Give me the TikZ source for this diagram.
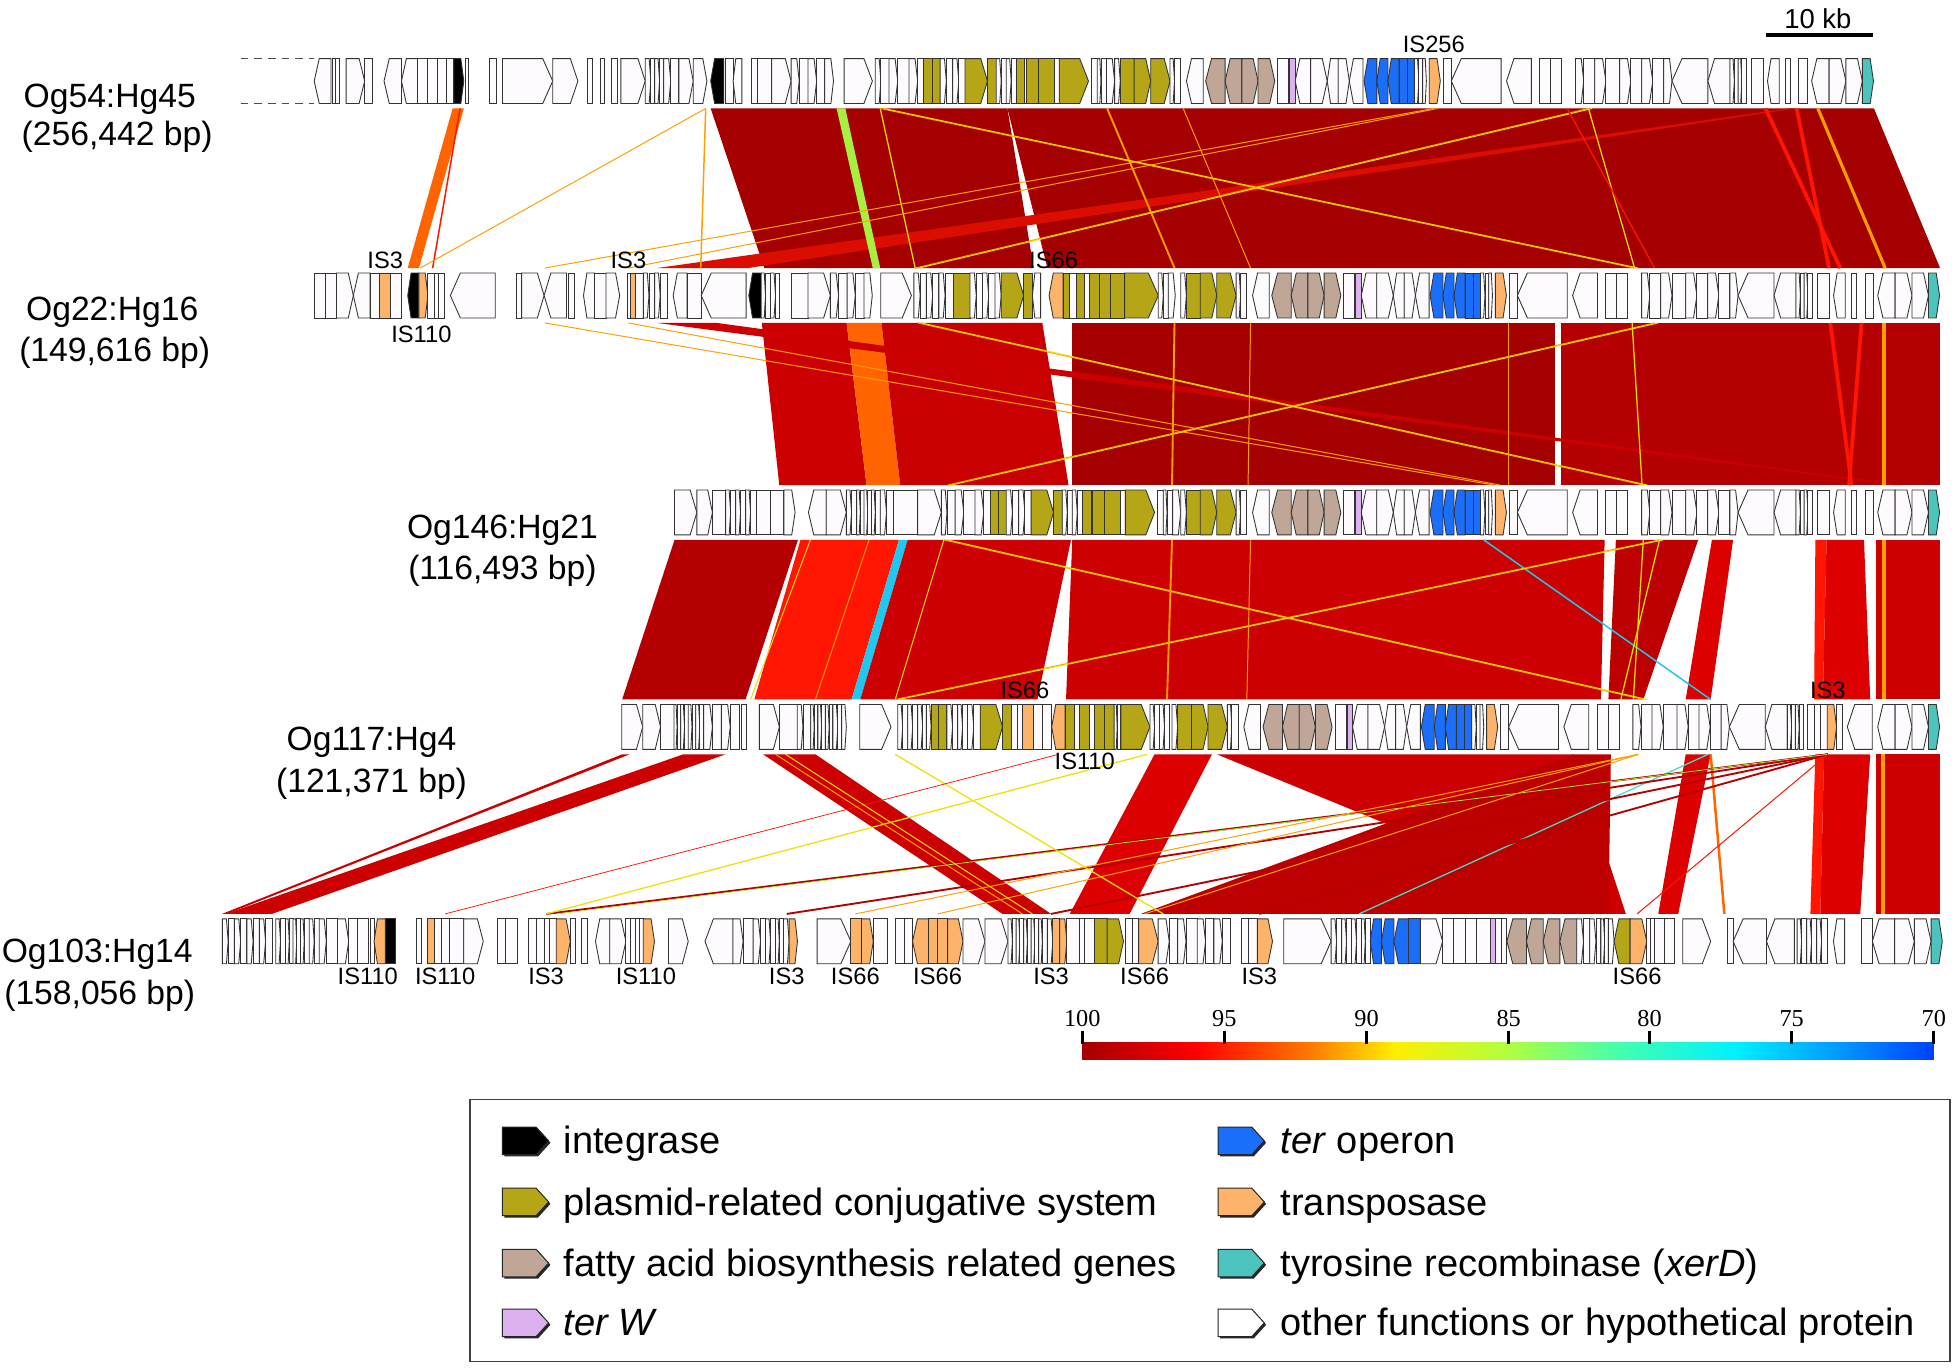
\documentclass[tikz,border=0pt]{standalone}
\usepackage{fontspec}
\setmainfont{Liberation Sans}
\newfontfamily\serifnum{Liberation Serif}
\definecolor{gW}{HTML}{FDFBFD}
\definecolor{gK}{HTML}{000000}
\definecolor{gO}{HTML}{B5A618}
\definecolor{gT}{HTML}{BFA696}
\definecolor{gP}{HTML}{DDB0F0}
\definecolor{gB}{HTML}{1A6EFA}
\definecolor{gR}{HTML}{FDB46A}
\definecolor{gC}{HTML}{4CC3BD}
\definecolor{iA}{HTML}{A50000}
\definecolor{iB}{HTML}{B40000}
\definecolor{iC}{HTML}{CC0000}
\definecolor{iD}{HTML}{DD0000}
\definecolor{iE}{HTML}{FF1500}
\definecolor{iF}{HTML}{FF6400}
\definecolor{iG}{HTML}{FFA000}
\definecolor{iH}{HTML}{F0E000}
\definecolor{iI}{HTML}{A8F040}
\definecolor{iJ}{HTML}{20C8F0}
\definecolor{iK}{HTML}{40E0D0}
\tikzset{
  genebox/.style={draw=black!80, line width=0.7pt, line join=miter},
  trk/.style={font=\fontsize{27}{31}\selectfont, anchor=base, inner sep=0},
  islab/.style={font=\fontsize{19}{22}\selectfont, anchor=base, inner sep=0},
  legtxt/.style={font=\fontsize{30.5}{34}\selectfont, anchor=base west, inner sep=0},
  barnum/.style={font=\serifnum\fontsize{19.5}{22}\selectfont, anchor=base, inner sep=0},
  thinln/.style={line width=0.8pt},
}
% gene drawing
\newcommand\gene[4]{%
  \pgfmathsetmacro\gA{#1}\pgfmathsetmacro\gB{#2}%
  \pgfmathsetmacro\gT{min(8,0.3*(\gB-\gA))}%
  \ifnum#3>0\relax
    \filldraw[genebox,fill=#4] (\gA,\ty) -- (\gB-\gT,\ty) -- (\gB,\gM) -- (\gB-\gT,\by) -- (\gA,\by) -- cycle;
  \else\ifnum#3<0\relax
    \filldraw[genebox,fill=#4] (\gB,\ty) -- (\gA+\gT,\ty) -- (\gA,\gM) -- (\gA+\gT,\by) -- (\gB,\by) -- cycle;
  \else
    \filldraw[genebox,fill=#4] (\gA,\ty) rectangle (\gB,\by);
  \fi\fi}
\newcommand\glist[1]{\foreach \pa/\pb/\pd/\pc in {#1}{\gene{\pa+\off}{\pb+\off}{\pd}{\pc}}}
\newcommand\wrun[2]{\xdef\wprev{#1}%
  \foreach \x [count=\i] in {#2}{%
    \ifodd\i\relax\gene{\wprev+\off}{\x+\off}{1}{gW}\else\gene{\wprev+\off}{\x+\off}{0}{gW}\fi
    \xdef\wprev{\x}}}
\newcommand\settrack[1]{\def\ty{#1}\pgfmathsetmacro\by{#1+36}\pgfmathsetmacro\gM{#1+18}}
% backbone pieces
\newcommand\BoneA{%
  \glist{252/265.5/-1/gW, 267/269/0/gW, 269/272/0/gW, 277.6/292.5/1/gW, 292.5/298.4/0/gW, 308/322/-1/gW, 322/335/-1/gW, 335/343/0/gW, 343/351/0/gW, 351/358/0/gW, 358/364/0/gW, 364/372/1/gK, 373.5/376/0/gW, 392.4/398.3/0/gW, 403/443.3/1/gW, 443.3/463.5/1/gW, 471/475/0/gW, 481.5/485/0/gW, 490.5/495/0/gW, 498/517.5/1/gW}%
  \wrun{517.5}{522,525,529,532.4,538,544.5}%
  \glist{544.5/556/1/gW, 556/567/1/gW, 570/580.5/-1/gK, 582/588/0/gW, 588/595/-1/gW, 603/607.5/0/gW, 607.5/619/0/gW, 619/634.5/1/gW}%
  \wrun{634.5}{641,648,655,661.5,668.5}%
  \glist{677/699.7/1/gW}}
\newcommand\BoneB{%
  \wrun{702}{706.5,713,720,729,736,741}%
  \glist{741/748/0/gO, 748/754/0/gO}%
  \wrun{754}{759,764,769,774}%
  \glist{774/792/1/gO, 792/799/0/gO}%
  \wrun{799}{803,807,811,815}%
  \glist{815/822/0/gO, 822/823.5/0/gW, 823.5/832.5/0/gO, 832.5/846/0/gO, 846/849.6/0/gW, 849.6/873/1/gO, 875/880/0/gW}%
  \wrun{880}{883,887.5,894}}
\newcommand\BoneC{%
  \wrun{894}{898.5}%
  \glist{898.5/909.6/0/gO, 909.6/922.9/1/gO, 922.9/938.4/1/gO}%
  \wrun{938.4}{942,947}%
  \glist{951.6/965/-1/gW, 967/982.6/-1/gT, 982.6/996/-1/gT, 996/1009/1/gT, 1009/1022.4/1/gT, 1024.7/1033.5/0/gW, 1034.4/1038.8/0/gP, 1038.8/1051.2/-1/gW, 1051.2/1064.5/1/gW, 1064.5/1073.3/-1/gW, 1073.3/1082.2/1/gW, 1082.2/1093.2/-1/gW, 1094/1104.3/-1/gB, 1104.3/1113.2/-1/gB, 1113.2/1122/-1/gB, 1122/1128.6/0/gB, 1128.6/1134.4/0/gB}%
  \wrun{1134.4}{1138,1141,1144}%
  \glist{1146.3/1155.2/1/gR, 1157.4/1164/0/gW, 1164/1204/-1/gW, 1208.3/1228.2/-1/gW, 1234.8/1243.7/0/gW, 1243.7/1252.5/0/gW}%
  \wrun{1263.6}{1270.2,1279,1288,1299,1308,1316.7,1325.6,1334.4,1341}%
  \glist{1341/1369.8/-1/gW, 1369.8/1387.5/-1/gW}%
  \wrun{1387.5}{1391,1394,1397,1400.8}}
\newcommand\BoneDa{\glist{1405/1414/0/gW, 1417.6/1427/-1/gW, 1431.8/1436.2/0/gW, 1442.8/1449.5/0/gW}}
\newcommand\BoneDb{\glist{1453/1467/-1/gW, 1467/1480.5/1/gW, 1480.5/1493.7/1/gW, 1493.7/1502.6/1/gC}}
% bands
\newcommand\band[5]{\fill[#1] (#2,\yT) -- (#3,\yT) -- (#5,\yB) -- (#4,\yB) -- cycle;}
\newcommand\lnk[3][thinln,iG]{\draw[#1] (#2,\yT) -- (#3,\yB);}
\newcommand\legicon[3]{%
  \fill[black!85] (#1+1.5,#2-9.5) -- (#1+28.5,#2-9.5) -- (#1+38.5,#2+1.5) -- (#1+28.5,#2+12.5) -- (#1+1.5,#2+12.5) -- cycle;
  \filldraw[draw=black!85, line width=0.8pt, fill=#3] (#1,#2-11) -- (#1+27,#2-11) -- (#1+37,#2) -- (#1+27,#2+11) -- (#1,#2+11) -- cycle;}
\begin{document}
\begin{tikzpicture}[x=1pt,y=-1pt]
\useasboundingbox (0,0) rectangle (1568,1098);
\fill[white] (0,0) rectangle (1568,1098);

% ---------- gap 1: Og54 -> Og22
\def\yT{87}\def\yB{215}
\band{iA}{570}{808}{613}{829}
\band{iA}{808}{1503}{840}{1556}
\fill[iE!60!iA] (1434,87) -- (1440,87) -- (600,215) -- (527,215) -- cycle;
\band{iF}{363}{372}{327}{336}
\lnk[line width=1.2pt,iE]{369}{347}
\band{iI}{671}{678}{700}{706}
\lnk[line width=1.2pt,iG]{566}{562}
\lnk{566}{337}
\lnk[line width=1pt,iH]{706}{734}
\lnk[line width=1.5pt,iG]{888}{942}
\lnk{949}{1003}
\lnk{706}{1311}\lnk[thinln,iH]{709}{1314}
\lnk{1274}{734}\lnk[thinln,iH]{1277}{737}
\lnk{1150}{437}\lnk{1153}{504}
\lnk[line width=3pt,iE]{1416}{1476}
\lnk[line width=3pt,iE]{1441}{1467}
\lnk[line width=2.5pt,iG]{1458}{1512}
\lnk[line width=1pt,iH]{1274}{1311}
\lnk[line width=1pt,iE]{1257}{1327}

% ---------- gap 2: Og22 -> Og146
\def\yT{259}\def\yB{389}
\band{iC}{611}{679}{625}{695}
\band{iF}{679}{707}{695}{722}
\band{iC!90!iA}{707}{836}{722}{857}
\band{iA}{860}{1247}{860}{1247}
\band{iB}{1252}{1556}{1252}{1556}
\fill[iC] (527,259) -- (575,259) -- (1525,389) -- (1518,389) -- cycle;
\lnk{437}{1198}\lnk{504}{1203}
\lnk{736}{1318}\lnk[thinln,iH]{739}{1321}
\lnk{1327}{760}\lnk[thinln,iH]{1330}{763}
\lnk[line width=1.5pt,iG]{942}{940}
\lnk{1003}{1001}
\lnk{1210}{1210}
\lnk[line width=1pt,iH]{1309}{1317}
\lnk[line width=3pt,iE]{1468}{1485}
\lnk[line width=3pt,iE]{1493}{1483}
\lnk[line width=2.5pt,iG]{1511}{1511}

% ---------- gap 3: Og146 -> Og117
\def\yT{433}\def\yB{561}
\band{iB}{541}{640}{499}{598}
\band{iE}{642}{721}{605}{683}
\band{iJ}{721}{728}{683}{690}
\band{iC}{728}{859}{690}{832}
\band{iC}{860}{1287}{855}{1284}
\band{iC!92!black}{1296}{1362}{1290}{1318}
\band{iD}{1373}{1390}{1352}{1372}
\band{iE}{1456}{1465}{1455}{1462}
\band{iD}{1465}{1495}{1462}{1500}
\band{iC}{1505}{1556}{1505}{1556}
\lnk[line width=3pt,iG]{1511}{1511}
\lnk[line width=1.2pt,iJ]{1190}{1372}
\lnk{757}{1318}\lnk[thinln,iH]{760}{1321}
\lnk{1331}{718}\lnk[thinln,iH]{1334}{721}
\lnk[line width=1.5pt,iG]{940}{936}
\lnk{1003}{1000}
\lnk[line width=1pt,iH]{1331}{1300}
\lnk[line width=1pt,iH]{1318}{1310}
\lnk[thinln,iH]{650}{602}
\lnk{697}{654}
\lnk[thinln,iH]{757}{718}

% ---------- gap 4: Og117 -> Og103
\def\yT{605}\def\yB{733}
\band{iC}{499}{505}{178}{182}
\band{iC}{548}{582}{181}{218}
\band{iC}{612}{654}{804}{843}
\band{iD}{926}{972}{858}{906}
\band{iC}{976}{1262}{1288}{1304}
\band{iC!92!black}{1262}{1292}{915}{1290}
\band{iD}{1352}{1372}{1330}{1346}
\band{iE}{1456}{1463}{1452}{1460}
\band{iD}{1463}{1500}{1460}{1492}
\band{iC}{1505}{1556}{1505}{1556}
\lnk[line width=3pt,iG]{1510}{1510}
\lnk[line width=2pt,iF]{1372}{1383}
\lnk[line width=1pt,iK]{1370}{1090}
\lnk[line width=1.5pt,iB]{1466}{438}
\lnk[line width=1.5pt,iB]{1466}{631}
\lnk[line width=1.5pt,iB]{1466}{843}
\lnk[line width=1.5pt,iB]{1466}{1010}
\lnk[line width=0.6pt,iI]{1466}{447}
\lnk[line width=0.8pt,iE]{1466}{1313}
\lnk{1314}{686}\lnk{1314}{752}\lnk{1314}{918}
\lnk[line width=1pt,iH]{718}{933}
\lnk[line width=1pt,iH]{920}{438}
\lnk[line width=0.6pt,iE]{849}{357}
\lnk{622}{820}\lnk[thinln,iH]{630}{828}

% ---------- tracks
% Track 1
\settrack{47}\def\off{0}
\draw[black!70, line width=0.8pt, dash pattern=on 6pt off 5pt] (193,47) -- (252,47) (193,83) -- (252,83);
\BoneA\BoneB\BoneC\BoneDa\BoneDb

% Track 2
\settrack{219}\def\off{0}
\glist{251.9/260.9/0/gW, 260.9/269.9/0/gW, 269.9/283.4/1/gW, 283.4/296.9/-1/gW, 296.9/304.5/0/gW, 304.5/313.5/0/gR, 313.5/321.6/0/gW, 327/336/-1/gK, 336/343.2/1/gR, 343.2/348.6/0/gW, 348.6/352/0/gW, 352/356.7/0/gW, 361.2/397.2/-1/gW, 413.9/418.4/0/gW, 418.4/436.4/1/gW, 436.4/454.4/-1/gW, 455.7/461/0/gW, 468/477/-1/gW, 477/486/0/gW, 486/497/1/gW, 503/506/0/gW, 506/509.3/0/gR, 509.3/516/0/gW}
\wrun{516}{520.5,525,529.5,535.4}
\glist{539.9/551/-1/gW, 551/562.4/0/gW, 562.4/598.4/-1/gW, 600.6/610.5/-1/gK}
\wrun{610.5}{614,618,622,625.4}
\glist{634.4/648/0/gW, 648/666/1/gW}
\wrun{666}{672.6,679.4,686,693,699.6}
\glist{706.4/731/1/gW}
\wrun{733}{738,743,748,753,758,765}
\glist{765/778/0/gO}
\wrun{778}{783,788,793,798,803}
\glist{803/821/1/gO, 821/828/0/gO, 828/834.6/-1/gW, 841.4/852.6/-1/gR, 852.6/858/0/gO, 858/863/0/gW, 863/870/0/gO, 870/874/0/gW, 874/882/0/gO, 882/891/0/gO, 891/902/0/gO, 902/929/1/gO}
\wrun{929}{933,937,942.6}
\def\off{53}\BoneC\BoneDa\BoneDb

% Track 3
\settrack{393}\def\off{0}
\glist{541/558.9/1/gW, 558.9/571.4/1/gW, 571.4/582/0/gW}
\wrun{582}{586,590,594,598,602,607}
\glist{607/617.7/0/gW, 617.7/628.7/0/gW, 628.7/637.7/1/gW, 648.4/662.7/-1/gW, 662.7/678.8/1/gW}
\wrun{678.8}{683,687,690,693,696,699,702,706,711,716.4}
\glist{716.4/736/0/gW, 736/755/1/gW}
\def\off{53}\BoneB\BoneC\BoneDa\BoneDb

% Track 4
\settrack{565}\def\off{0}
\glist{498.7/515.5/1/gW, 515.5/529.8/1/gW, 529.8/540.6/0/gW}
\wrun{540.6}{543,546,549,552,555,558,561.3,564.3,571.4,578.6,585.7,592.9}
\glist{594.7/598.3/0/gW, 609/625.1/1/gW, 625.1/639.4/0/gW}
\wrun{639.4}{644,650.2,653,656,659,662,665,668,672,675,678.8}
\glist{689.6/714.6/1/gW}
\wrun{720}{724,728,732,736,740,743,746.8}
\glist{746.8/753/0/gO, 753/759.4/0/gO}
\wrun{759.4}{764,768,772,776,781,786.2}
\glist{786.2/804.1/1/gO, 804.1/811.3/0/gO, 811.3/816/0/gW, 816/820.2/0/gW, 820.2/829.2/0/gR, 829.2/836/0/gW, 836/843.5/0/gW, 843.5/854.3/-1/gR, 854.3/862/0/gO, 862/866/0/gW, 866/874/0/gO, 874/878/0/gW, 878/886/0/gO, 886/893.6/0/gO}
\wrun{893.6}{896,899}
\glist{899/922.3/1/gO}
\wrun{922.3}{926,930,934,938}
\def\off{46}\BoneC
\def\off{0}
\glist{1450/1455/0/gW, 1455/1460/0/gW, 1460/1465.5/0/gW, 1465.5/1473/1/gR, 1473/1478/0/gW, 1481.6/1501.6/-1/gW}
\def\off{53}\BoneDb

% Track 5
\settrack{737}\def\off{0}
\wrun{178.4}{183,188,193,198,203,208,213,218.9}
\wrun{221.2}{225,229,232,235,238,241,244,248,252,256,261.7}
\glist{261.7/270.7/0/gW, 270.7/279.7/1/gW, 279.7/286.4/0/gW, 286.4/295.4/0/gW, 297/300/0/gW, 300/309/-1/gR, 309/317/0/gK, 333.7/338.2/0/gW, 342.7/348.5/0/gR, 348.5/354/0/gW, 354/360.7/0/gW, 360.7/371.9/0/gW, 371.9/387.6/1/gW, 398.9/405.7/0/gW, 405.7/414.7/0/gW, 423.7/430.4/0/gW, 430.4/437/0/gW, 437/441/0/gW, 441/446.1/0/gW, 446.1/457.4/1/gR, 457.4/461.9/0/gW, 466.4/470.9/0/gW, 477.6/489/-1/gW, 489/502/1/gW, 502/506/0/gW, 506/510/0/gW, 510/513/0/gW, 513/515.9/0/gW, 515.9/524.9/1/gR, 536.2/552/1/gW, 565.4/587.9/-1/gW}
\wrun{587.9}{596,604,610,614,618,622,625,628.4,632.9}
\glist{632.9/639.6/1/gR, 655.4/682.4/1/gW, 682.4/691/0/gR, 691/700.4/1/gR, 700.4/711.6/0/gW, 718/725/0/gW, 725/731.9/0/gW, 731.9/745/-1/gR, 745/752/0/gR, 752/760/0/gR, 760/772.4/1/gR, 772.4/790/1/gW, 790/808.4/1/gW}
\wrun{808.4}{812,815,818,821,824,827,830,833,836,840,844.4}
\glist{844.4/850/0/gR, 850/855.7/1/gR, 855.7/866/0/gW, 866/870/0/gW, 870/877.4/0/gW, 877.4/888/0/gO, 888/901.1/1/gO, 903/908/0/gW, 908/913.2/0/gW, 913.2/928.9/1/gR}
\wrun{928.9}{937.8,944.5,951.2,960.2,966.9,973.6,980.3,987}
\glist{996/1001/0/gW, 1001/1008.5/0/gW, 1008.5/1020.6/1/gR, 1029.6/1067.6/1/gW}
\wrun{1067.6}{1072,1076,1080,1084,1088,1092,1095,1099}
\glist{1099/1108/-1/gB, 1108/1118/-1/gB, 1118/1130/-1/gB, 1130/1139.2/0/gB, 1139.2/1157.1/1/gW, 1157.1/1166.1/0/gW, 1166.1/1175/0/gW, 1175/1184/0/gW, 1184/1195.2/0/gW, 1195.2/1199.7/0/gP, 1199.7/1204/0/gW, 1204/1208.6/0/gW, 1208.6/1224.3/-1/gT, 1224.3/1237.7/-1/gT, 1237.7/1251.1/-1/gT, 1251.1/1264.6/-1/gT}
\wrun{1264.6}{1270,1275,1280,1284,1287,1290,1294.6}
\glist{1294.6/1307.4/-1/gO, 1307.4/1320.8/1/gR, 1320.8/1324/0/gW, 1324/1327/0/gW, 1327/1335/0/gW, 1335/1342.6/0/gW, 1349.6/1372/1/gW, 1385.4/1390/0/gW, 1390/1416.8/-1/gW, 1416.8/1439.2/-1/gW}
\wrun{1441.4}{1445,1449,1453,1457,1461,1466}
\glist{1470.5/1479.5/-1/gW, 1492.8/1501.7/0/gW, 1501.7/1519.6/-1/gW, 1519.6/1535.4/1/gW, 1535.4/1548.8/1/gW, 1548.8/1557.8/1/gC}

% ---------- track labels
\node[trk] (t1a) at (88,86) {Og54:Hg45};
\node[trk] (t1b) at (94,117) {(256,442 bp)};
\node[trk] (t2a) at (90,257) {Og22:Hg16};
\node[trk] (t2b) at (92,290) {(149,616 bp)};
\node[trk] (t3a) at (403,432) {Og146:Hg21};
\node[trk] (t3b) at (403,465) {(116,493 bp)};
\node[trk] (t4a) at (298,602) {Og117:Hg4};
\node[trk] (t4b) at (298,636) {(121,371 bp)};
\node[trk] (t5a) at (78,772) {Og103:Hg14};
\node[trk] (t5b) at (80,806) {(158,056 bp)};

% ---------- IS labels
\node[islab] (is1) at (1150,42) {IS256};
\node[islab] (is2) at (309,215) {IS3};
\node[islab] (is3) at (504,215) {IS3};
\node[islab] (is4) at (845,215) {IS66};
\node[islab] (is5) at (338,275) {IS110};
\node[islab] (is6) at (822,560) {IS66};
\node[islab] (is7) at (1466,560) {IS3};
\node[islab] (is8) at (870,617) {IS110};
\foreach \xx/\tt [count=\k] in {295/IS110, 357/IS110, 438/IS3, 518/IS110, 631/IS3, 686/IS66, 752/IS66, 843/IS3, 918/IS66, 1010/IS3, 1313/IS66}
  \node[islab] (isb\k) at (\xx,790) {\tt};

% ---------- scale bar
\node[font=\fontsize{22}{26}\selectfont, anchor=base, inner sep=0] (kb) at (1458,23) {10 kb};
\draw[line width=2.6pt] (1416,28) -- (1502,28);

% ---------- colour bar
\def\cbT{836}\def\cbB{850}
\shade[left color=iA, right color={rgb,255:red,255;green,0;blue,0}] (868,\cbT) rectangle (959.5,\cbB);
\shade[left color={rgb,255:red,255;green,0;blue,0}, right color={rgb,255:red,255;green,120;blue,0}] (959,\cbT) rectangle (1050.5,\cbB);
\shade[left color={rgb,255:red,255;green,120;blue,0}, right color={rgb,255:red,255;green,238;blue,0}] (1050,\cbT) rectangle (1118.5,\cbB);
\shade[left color={rgb,255:red,255;green,238;blue,0}, right color={rgb,255:red,176;green,255;blue,64}] (1118,\cbT) rectangle (1210.5,\cbB);
\shade[left color={rgb,255:red,176;green,255;blue,64}, right color={rgb,255:red,64;green,255;blue,176}] (1210,\cbT) rectangle (1301.5,\cbB);
\shade[left color={rgb,255:red,64;green,255;blue,176}, right color={rgb,255:red,0;green,240;blue,255}] (1301,\cbT) rectangle (1392.5,\cbB);
\shade[left color={rgb,255:red,0;green,240;blue,255}, right color={rgb,255:red,0;green,144;blue,255}] (1392,\cbT) rectangle (1483.5,\cbB);
\shade[left color={rgb,255:red,0;green,144;blue,255}, right color={rgb,255:red,0;green,64;blue,255}] (1483,\cbT) rectangle (1551,\cbB);
\foreach \xx/\vv [count=\k] in {868/100, 982/95, 1096/90, 1210/85, 1323/80, 1437/75, 1551/70}{
  \draw[line width=2.2pt] (\xx,827) -- (\xx,837);
  \node[barnum] (cb\k) at (\xx,823) {\vv};
}

% ---------- legend
\draw[black!75, line width=1pt] (377,882) rectangle (1564,1092);
\legicon{403}{915}{gK}
\legicon{403}{964}{gO}
\legicon{403}{1013}{gT}
\legicon{403}{1061}{gP}
\legicon{977}{915}{gB}
\legicon{977}{964}{gR}
\legicon{977}{1013}{gC}
\legicon{977}{1061}{white}
\node[legtxt] (lg1) at (452,925.5) {integrase};
\node[legtxt] (lg2) at (452,974.5) {plasmid-related conjugative system};
\node[legtxt] (lg3) at (452,1023.5) {fatty acid biosynthesis related genes};
\node[legtxt] (lg4) at (452,1071.5) {\itshape ter W};
\node[legtxt] (lg5) at (1027,925.5) {\textit{ter} operon};
\node[legtxt] (lg6) at (1027,974.5) {transposase};
\node[legtxt] (lg7) at (1027,1023.5) {tyrosine recombinase (\textit{xerD})};
\node[legtxt] (lg8) at (1027,1071.5) {other functions or hypothetical protein};
\end{tikzpicture}
\end{document}
